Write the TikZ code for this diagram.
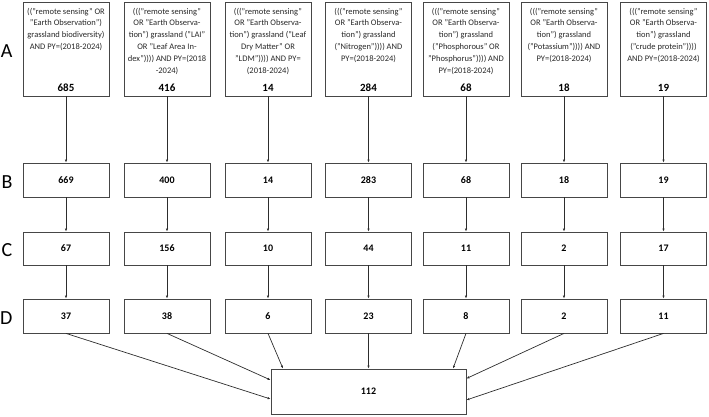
\documentclass[tikz,border=0pt]{standalone}
\usepackage{fontspec}
\setmainfont{Carlito}
\usetikzlibrary{positioning, arrows.meta}

\definecolor{BoxColor}{RGB}{70,70,70}
\definecolor{LinkColor}{RGB}{45,45,45}
\definecolor{TermColor}{RGB}{40,40,40}

\tikzstyle{link} = [LinkColor, line width=0.7pt, -{Latex[length=3pt, width=2.4pt]}]
\tikzset{
  query/.style={draw=BoxColor, line width=0.8pt, rectangle, minimum width=86pt, minimum height=94pt},
  count/.style={draw=BoxColor, line width=0.8pt, rectangle, minimum width=86pt, minimum height=34pt, font=\bfseries\fontsize{10}{12}\selectfont},
  total/.style={draw=BoxColor, line width=0.8pt, rectangle, minimum width=195pt, minimum height=45pt, font=\bfseries\fontsize{10}{12}\selectfont},
  terms/.style={align=center, inner sep=0pt, text=TermColor, font=\fontsize{8.5}{11.8}\selectfont},
  hits/.style={inner sep=0pt, font=\bfseries\fontsize{11}{13}\selectfont},
  rowlabel/.style={inner sep=0pt, yshift=-2pt, font=\fontsize{20}{24}\selectfont}
}

\begin{document}
\begin{tikzpicture}[x=1pt, y=-1pt]
  \useasboundingbox (0,0) rectangle (709,416);

  % Row A: search strings
  \node[query] (a1) at (66,49) {};
  \node[terms, below=6pt of a1.north] (t1) {(("remote sensing" OR\\"Earth Observation")\\grassland biodiversity)\\AND PY=(2018-2024)};
  \node[hits, above=5pt of a1.south] (h1) {685};

  \node[query] (a2) at (167,49) {};
  \node[terms, below=6pt of a2.north] (t2) {((("remote sensing"\\OR "Earth Observa-\\tion") grassland ("LAI"\\OR "Leaf Area In-\\dex")))) AND PY=(2018\\-2024)};
  \node[hits, above=5pt of a2.south] (h2) {416};

  \node[query] (a3) at (268,49) {};
  \node[terms, below=6pt of a3.north] (t3) {((("remote sensing"\\OR "Earth Observa-\\tion") grassland ("Leaf\\Dry Matter" OR\\"LDM")))) AND PY=\\(2018-2024)};
  \node[hits, above=5pt of a3.south] (h3) {14};

  \node[query] (a4) at (368.5,49) {};
  \node[terms, below=6pt of a4.north] (t4) {((("remote sensing"\\OR "Earth Observa-\\tion") grassland\\("Nitrogen")))) AND\\PY=(2018-2024)};
  \node[hits, above=5pt of a4.south] (h4) {284};

  \node[query] (a5) at (466,49) {};
  \node[terms, below=6pt of a5.north] (t5) {((("remote sensing"\\OR "Earth Observa-\\tion") grassland\\("Phosphorous" OR\\"Phosphorus")))) AND\\PY=(2018-2024)};
  \node[hits, above=5pt of a5.south] (h5) {68};

  \node[query] (a6) at (564,49) {};
  \node[terms, below=6pt of a6.north] (t6) {((("remote sensing"\\OR "Earth Observa-\\tion") grassland\\("Potassium")))) AND\\PY=(2018-2024)};
  \node[hits, above=5pt of a6.south] (h6) {18};

  \node[query] (a7) at (663.5,49) {};
  \node[terms, below=6pt of a7.north] (t7) {((("remote sensing"\\OR "Earth Observa-\\tion") grassland\\("crude protein"))))\\AND PY=(2018-2024)};
  \node[hits, above=5pt of a7.south] (h7) {19};

  % Rows B to D: remaining records
  \foreach \x/\v [count=\i] in {66/669, 167/400, 268/14, 368.5/283, 466/68, 564/18, 663.5/19}
    \node[count] (b\i) at (\x,180) {\v};
  \foreach \x/\v [count=\i] in {66/67, 167/156, 268/10, 368.5/44, 466/11, 564/2, 663.5/17}
    \node[count, minimum height=33pt] (c\i) at (\x,248.5) {\v};
  \foreach \x/\v [count=\i] in {66/37, 167/38, 268/6, 368.5/23, 466/8, 564/2, 663.5/11}
    \node[count] (d\i) at (\x,316) {\v};

  % Row labels
  \node[rowlabel, left=10pt of a1] (la) {A};
  \node[rowlabel, left=10pt of b1] (lb) {B};
  \node[rowlabel, left=10pt of c1] (lc) {C};
  \node[rowlabel, left=10pt of d1] (ld) {D};

  % Merged total
  \node[total] (f) at (368.5,391.5) {112};

  % Links down each column
  \foreach \i in {1,...,7} {
    \draw[link] (a\i) -- (b\i);
    \draw[link] (b\i) -- (c\i);
    \draw[link] (c\i) -- (d\i);
  }

  % Links into the total
  \draw[link] (d1.south) -- ([yshift=-7.5pt]f.west);
  \draw[link] (d2.south) -- ([yshift=11.5pt]f.west);
  \draw[link] (d3.south) -- ([xshift=-85.5pt]f.north);
  \draw[link] (d4.south) -- (f.north);
  \draw[link] (d5.south) -- ([xshift=84.5pt]f.north);
  \draw[link] (d6.south) -- ([yshift=13pt]f.east);
  \draw[link] (d7.south) -- ([yshift=-8.5pt]f.east);
\end{tikzpicture}
\end{document}
